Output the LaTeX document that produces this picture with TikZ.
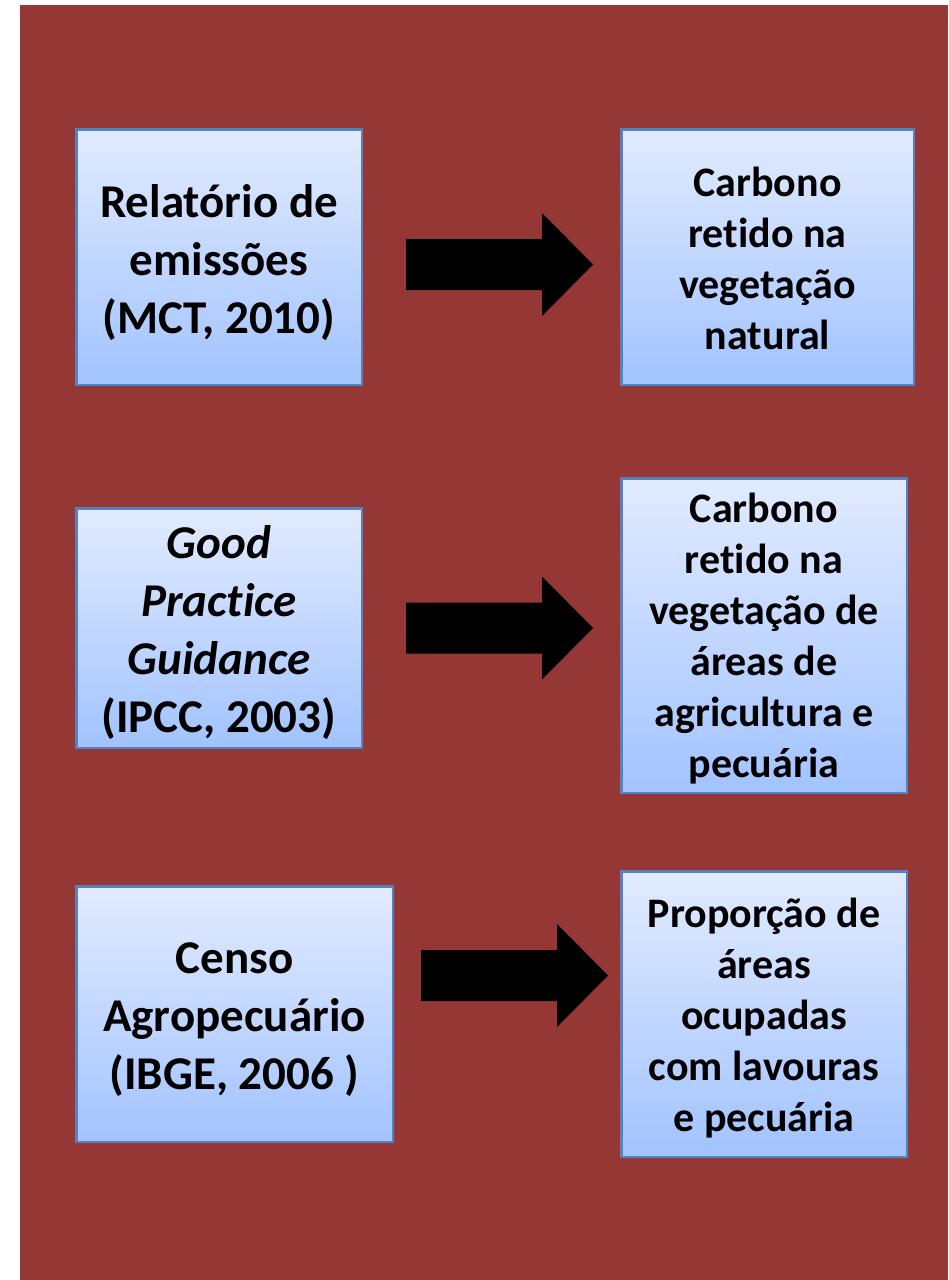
\documentclass[tikz,border=0pt]{standalone}
\usepackage{fontspec}
\setmainfont{Carlito}[Ligatures=NoCommon]
\definecolor{bgred}{RGB}{149,55,53}
\definecolor{boxtop}{RGB}{226,235,255}
\definecolor{boxbot}{RGB}{162,195,255}
\definecolor{boxedge}{RGB}{84,130,192}
\tikzset{
  boxshape/.style={draw=boxedge, line width=2.5pt, top color=boxtop, bottom color=boxbot,
    inner sep=0pt},
  srctext/.style={inner sep=0pt, align=center, font=\fontsize{47}{58}\selectfont\bfseries},
  restext/.style={inner sep=0pt, align=center, font=\fontsize{42}{51}\selectfont\bfseries},
  barrow/.pic={\fill[black] (0,-25.5) -- (136,-25.5) -- (136,-51.5) -- (187,0)
      -- (136,51.5) -- (136,25.5) -- (0,25.5) -- cycle;}
}
\begin{document}
\begin{tikzpicture}[x=1pt,y=-1pt]
\useasboundingbox (0,0) rectangle (948,1280);
\fill[white] (0,0) rectangle (948,1280);
\fill[bgred] (20,5) rectangle (948,1280);

\node[boxshape, minimum width=285.5pt, minimum height=255.5pt] (b1) at (219,257) {};
\node[boxshape, minimum width=292.5pt, minimum height=255.5pt] (b2) at (767.5,257) {};
\node[boxshape, minimum width=285.5pt, minimum height=239.5pt] (b3) at (219,628) {};
\node[boxshape, minimum width=285.5pt, minimum height=314.5pt] (b4) at (764,635.5) {};
\node[boxshape, minimum width=316.5pt, minimum height=255.5pt] (b5) at (234.5,1014) {};
\node[boxshape, minimum width=285.5pt, minimum height=285.5pt] (b6) at (764,1014) {};

\node[srctext] (t1) at ([yshift=-6pt]b1.center) {Relatório de\\emissões\\(MCT, 2010)};
\node[restext] (t2) at ([yshift=-1pt]b2.center) {Carbono\\retido na\\vegetação\\natural};
\node[srctext] (t3) at ([yshift=-5pt]b3.center)
  {\itshape Good\\\itshape Practice\\\itshape Guidance\\(IPCC, 2003)};
\node[restext] (t4) at ([yshift=-3.5pt]b4.center)
  {Carbono\\retido na\\vegetação de\\áreas de\\agricultura e\\pecuária};
\node[srctext] (t5) at ([yshift=-6pt]b5.center) {Censo\\Agropecuário\\(IBGE, 2006 )};
\node[restext] (t6) at ([yshift=-4.5pt]b6.center)
  {Proporção de\\áreas\\ocupadas\\com lavouras\\e pecuária};

\coordinate (a1) at (406,264.5);
\coordinate (a2) at (406,628);
\coordinate (a3) at (421,975.5);
\pic at (a1) {barrow};
\pic at (a2) {barrow};
\pic at (a3) {barrow};
\end{tikzpicture}
\end{document}
